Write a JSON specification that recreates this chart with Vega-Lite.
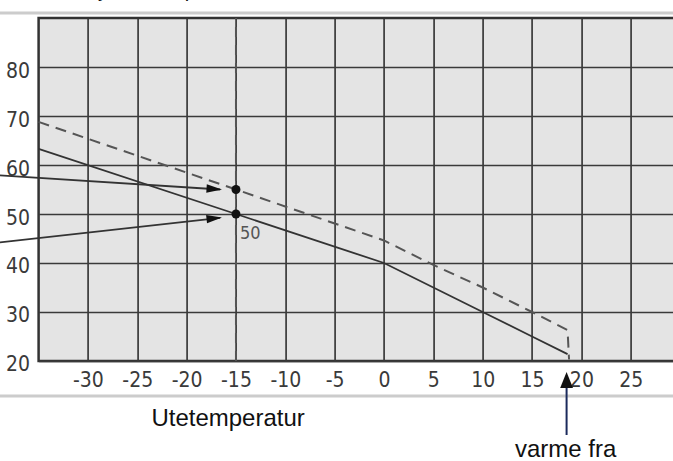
{
  "$schema": "https://vega.github.io/schema/vega-lite/v6.json",
  "autosize": {"type": "none"},
  "padding": {"left": 38.6, "top": 18, "right": 0, "bottom": 100},
  "width": 640,
  "height": 343,
  "background": "white",
  "config": {
    "view": {"fill": "#e4e4e4", "stroke": "#333333", "strokeWidth": 2.5},
    "axis": {"labelFont": "DejaVu Sans Condensed, Open Sans, sans-serif", "labelFontSize": 21, "labelColor": "#3a3a3a", "gridColor": "#3a3a3a", "gridWidth": 1.7, "gridOpacity": 1, "domain": false, "ticks": false, "labelOverlap": false, "labelFlush": false, "labelBound": false, "labelExpr": "datum.value + ''"}
  },
  "datasets": {
    "lines": [{"x": -40, "x2": 31, "y": 91.0}, {"x": -40, "x2": 31, "y": 12.85}],
    "solid": [{"x": -35, "y": 63.3}, {"x": -15, "y": 50}, {"x": 0, "y": 40}, {"x": 5, "y": 35}, {"x": 10, "y": 30}, {"x": 15, "y": 25}, {"x": 18.6, "y": 21.4}],
    "dashed": [{"x": -35, "y": 68.8}, {"x": -15, "y": 55}, {"x": 0, "y": 44.6}, {"x": 5, "y": 39.6}, {"x": 10, "y": 35}, {"x": 15, "y": 30}, {"x": 18.6, "y": 26.3}, {"x": 18.75, "y": 20.3}],
    "vert": [{"x": -15, "y": 20, "y2": 90}],
    "arrows": [{"id": 1, "x": -39, "y": 57.9}, {"id": 1, "x": -16.6, "y": 55.0}, {"id": 2, "x": -39, "y": 44.2}, {"id": 2, "x": -16.6, "y": 49.2}],
    "head1": [{"x": -17.2, "y": 55.1}],
    "head2": [{"x": -17.2, "y": 49.13}],
    "dots": [{"x": -15, "y": 55}, {"x": -15, "y": 50}],
    "varme": [{"x": 18.5, "y": 17.0, "y2": 4.9}],
    "varmehead": [{"x": 18.5, "y": 16.1}],
    "bigtext": [{"x": -15.8, "y": 8.2, "text": "Utetemperatur"}, {"x": 18.4, "y": 1.8, "text": "varme fra"}],
    "toptext": [{"x": -30.33, "y": 94.3, "text": "Systemtemperatur"}],
    "label50": [{"x": -14.6, "y": 46.0, "text": "50"}]
  },
  "encoding": {
    "x": {"field": "x", "type": "quantitative", "scale": {"domain": [-35, 29.85], "nice": false, "zero": false}, "axis": {"values": [-30, -25, -20, -15, -10, -5, 0, 5, 10, 15, 20, 25], "title": null, "labelPadding": 9}},
    "y": {"field": "y", "type": "quantitative", "scale": {"domain": [20, 90], "nice": false, "zero": false}, "axis": {"values": [20, 30, 40, 50, 60, 70, 80], "title": null, "labelPadding": 9, "labelOffset": 4}}
  },
  "layer": [
    {"data": {"name": "lines"}, "mark": {"type": "rule", "color": "#cccccc", "strokeWidth": 3}, "encoding": {"x2": {"field": "x2"}}},
    {"data": {"name": "solid"}, "mark": {"type": "line", "color": "#333333", "strokeWidth": 1.8}, "encoding": {}},
    {"data": {"name": "dashed"}, "mark": {"type": "line", "color": "#555555", "strokeWidth": 2, "strokeDash": [11, 7]}, "encoding": {}},
    {"data": {"name": "vert"}, "mark": {"type": "rule", "color": "#555555", "strokeWidth": 2, "strokeDash": [10, 8]}, "encoding": {"y2": {"field": "y2"}}},
    {"data": {"name": "arrows"}, "mark": {"type": "line", "color": "#333333", "strokeWidth": 1.8}, "encoding": {"detail": {"field": "id", "type": "nominal"}}},
    {"data": {"name": "head1"}, "mark": {"type": "point", "shape": "M-1,-0.55L1,0L-1,0.55Z", "filled": true, "color": "#111111", "opacity": 1, "size": 240, "angle": 3.7}, "encoding": {}},
    {"data": {"name": "head2"}, "mark": {"type": "point", "shape": "M-1,-0.55L1,0L-1,0.55Z", "filled": true, "color": "#111111", "opacity": 1, "size": 240, "angle": 353.7}, "encoding": {}},
    {"data": {"name": "dots"}, "mark": {"type": "circle", "color": "#111111", "opacity": 1, "size": 80}, "encoding": {}},
    {"data": {"name": "varme"}, "mark": {"type": "rule", "color": "#1b2a5c", "strokeWidth": 2}, "encoding": {"y2": {"field": "y2"}}},
    {"data": {"name": "varmehead"}, "mark": {"type": "point", "shape": "M0,-1L0.8,1L-0.8,1Z", "filled": true, "color": "#111111", "opacity": 1, "size": 256}, "encoding": {}},
    {"data": {"name": "bigtext"}, "mark": {"type": "text", "font": "Liberation Sans", "fontSize": 24, "color": "#111111", "align": "center", "baseline": "middle"}, "encoding": {"text": {"field": "text"}}},
    {"data": {"name": "toptext"}, "mark": {"type": "text", "font": "Liberation Sans", "fontSize": 20, "color": "#111111", "align": "left", "baseline": "alphabetic"}, "encoding": {"text": {"field": "text"}}},
    {"data": {"name": "label50"}, "mark": {"type": "text", "font": "DejaVu Sans Condensed, Open Sans, sans-serif", "fontSize": 18, "color": "#555555", "align": "left", "baseline": "middle"}, "encoding": {"text": {"field": "text"}}}
  ]
}
